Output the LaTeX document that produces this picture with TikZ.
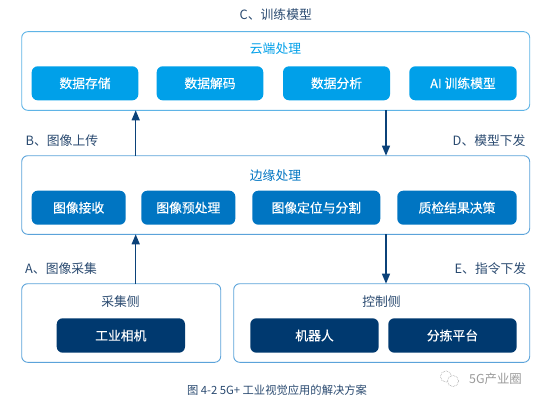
\documentclass[tikz,border=0pt]{standalone}
\usepackage{fontspec}
\setmainfont{Noto Sans CJK SC}
\newfontfamily\chipfont[FakeBold=0.25]{Noto Sans CJK SC}
\usetikzlibrary{arrows.meta}
\definecolor{cloudc}{HTML}{00A0E9}
\definecolor{edgec}{HTML}{0075C2}
\definecolor{navyc}{HTML}{00396F}
\definecolor{framec}{HTML}{5FB4E6}
\definecolor{framed}{HTML}{5BA3DA}
\definecolor{labelc}{HTML}{2A4A70}
\definecolor{arrowc}{HTML}{0B4279}
\definecolor{markc}{HTML}{9A9A9A}
\tikzset{
  px/.style={x=1pt,y=-1pt},
  frame/.style={draw=#1,line width=0.9pt,rounded corners=6pt,fill=white,inner sep=0pt,outer sep=0pt},
  chip/.style={fill=#1,rounded corners=6pt,text=white,font=\chipfont\fontsize{12.8pt}{14pt}\selectfont,inner sep=0pt,outer sep=0pt,align=center},
  lab/.style={text=labelc,font=\fontsize{12.8pt}{14pt}\selectfont,inner sep=0pt,anchor=west},
  ttl/.style={font=\fontsize{12.8pt}{14pt}\selectfont,inner sep=0pt},
  flow/.style={draw=arrowc,line width=1.3pt,-{Triangle[length=10pt,width=8pt]}},
}
\newcommand{\myframe}[6]{% name,color,x0,y0,x1,y1
  \pgfmathsetmacro{\cxa}{(#3+#5)/2}\pgfmathsetmacro{\cya}{(#4+#6)/2}
  \pgfmathsetmacro{\wa}{#5-#3}\pgfmathsetmacro{\ha}{#6-#4}
  \node[frame=#2,minimum width=\wa pt,minimum height=\ha pt] (#1) at (\cxa,\cya) {};
}
\newcommand{\chipbox}[7]{% name,color,x0,y0,x1,y1,text
  \pgfmathsetmacro{\cxa}{(#3+#5)/2}\pgfmathsetmacro{\cya}{(#4+#6)/2}
  \pgfmathsetmacro{\wa}{#5-#3}\pgfmathsetmacro{\ha}{#6-#4}
  \node[chip=#2,minimum width=\wa pt,minimum height=\ha pt] (#1) at (\cxa,\cya) {#7};
}
\begin{document}
\begin{tikzpicture}[px]
\useasboundingbox (0,0) rectangle (541,404);
\myframe{cloud}{framec}{21.7}{31.7}{529.7}{110.3}
\myframe{edge}{framed}{21.7}{155.7}{529.7}{234.3}
\myframe{acq}{framed}{21.7}{283.7}{220.7}{362.3}
\myframe{ctrl}{framed}{233.7}{283.7}{529.7}{362.3}
\chipbox{c1}{cloudc}{31.7}{66.3}{138.3}{100.3}{数据存储}
\chipbox{c2}{cloudc}{156.7}{66.3}{263.3}{100.3}{数据解码}
\chipbox{c3}{cloudc}{283}{66.3}{390}{100.3}{数据分析}
\chipbox{c4}{cloudc}{409.3}{66.3}{516.7}{100.3}{AI 训练模型}
\chipbox{e1}{edgec}{31.7}{190.7}{125.7}{224.7}{图像接收}
\chipbox{e2}{edgec}{141.3}{190.7}{235.3}{224.7}{图像预处理}
\chipbox{e3}{edgec}{252.3}{190.7}{380.3}{224.7}{图像定位与分割}
\chipbox{e4}{edgec}{397.3}{190.7}{516.7}{224.7}{质检结果决策}
\chipbox{a1}{navyc}{56.7}{318.3}{185}{352.7}{工业相机}
\chipbox{r1}{navyc}{250.3}{318.3}{378.7}{352.7}{机器人}
\chipbox{r2}{navyc}{388.3}{318.3}{516.7}{352.7}{分拣平台}
\node[ttl,text=cloudc] (tc) at (275.5,48.7) {云端处理};
\node[ttl,text=edgec] (te) at (275.5,175.2) {边缘处理};
\node[ttl,text=labelc] (ta) at (120.5,301.7) {采集侧};
\node[ttl,text=labelc] (tr) at (381.5,301.7) {控制侧};
\node[lab] (lc) at (239.5,15) {C、训练模型};
\node[lab] (lb) at (25.5,141) {B、图像上传};
\node[lab] (ld) at (452.5,141) {D、模型下发};
\node[lab] (la) at (25,269) {A、图像采集};
\node[lab] (le) at (454.5,269) {E、指令下发};
\node[text=labelc,font=\fontsize{11.3pt}{13pt}\selectfont,inner sep=0pt] (cap) at (277,390.5) {图 4-2 5G+ 工业视觉应用的解决方案};
\node[text=markc,font=\fontsize{12.4pt}{14pt}\selectfont,inner sep=0pt,anchor=west] (wm) at (469,379) {5G产业圈};
\draw[markc,line width=0.6pt,densely dotted,fill=white] (446,376.5) circle (5.6);
\draw[markc,line width=0.6pt,densely dotted,fill=white] (453,381) circle (5.6);
\coordinate (u) at (135.7,0);
\coordinate (d) at (386,0);
\draw[flow] (edge.north -| u) -- (cloud.south -| u);
\draw[flow] (cloud.south -| d) -- (edge.north -| d);
\draw[flow] (acq.north -| u) -- (edge.south -| u);
\draw[flow] (edge.south -| d) -- (ctrl.north -| d);
\end{tikzpicture}
\end{document}
